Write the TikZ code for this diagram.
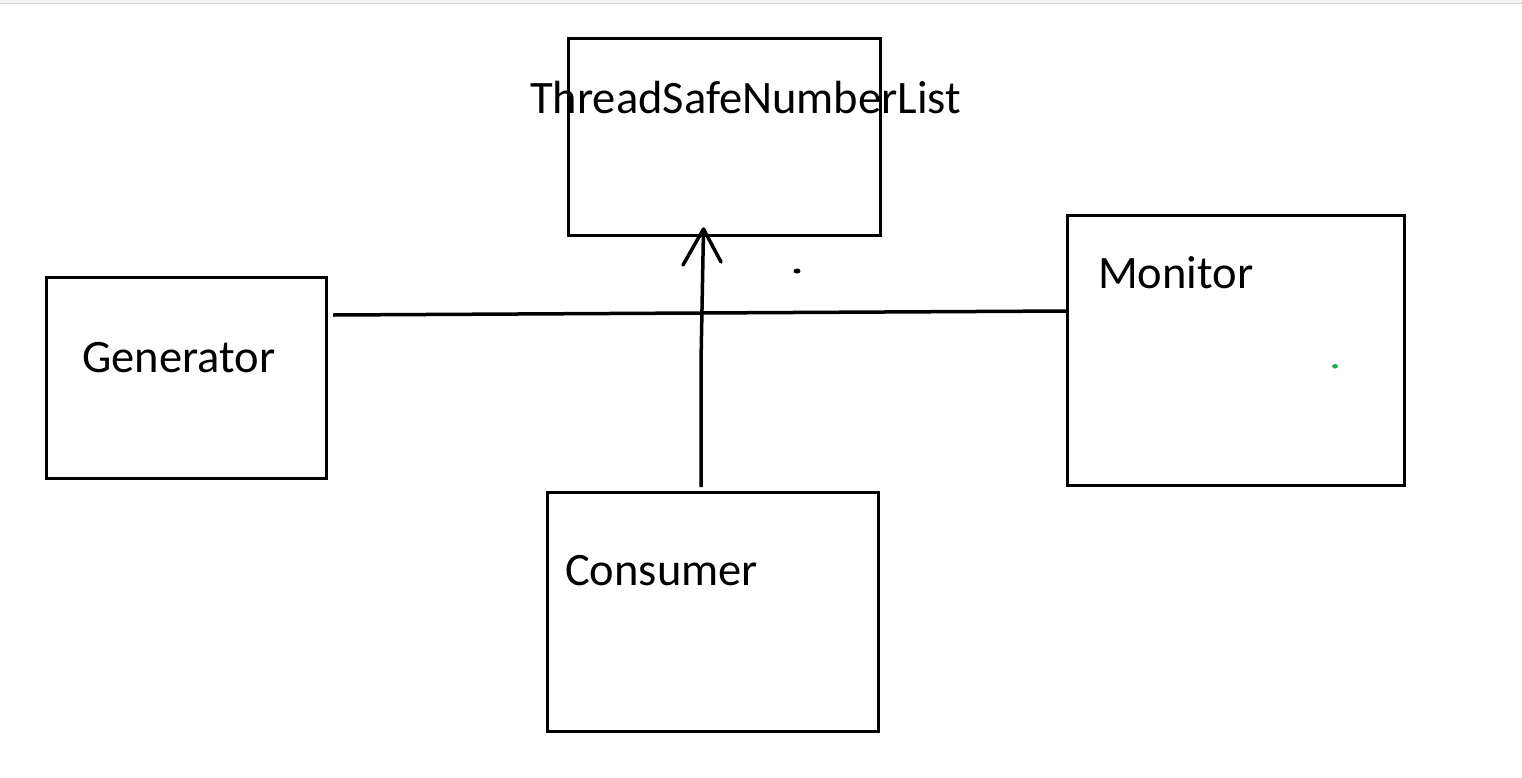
\documentclass[tikz,border=0pt]{standalone}
\usepackage{fontspec}
\setmainfont{Carlito}
\definecolor{paintgreen}{HTML}{22B14C}
\begin{document}
\begin{tikzpicture}[x=1pt,y=-1pt,
  box/.style={draw=black,line width=3pt,inner sep=0pt,fill=none},
  lbl/.style={anchor=base west,inner sep=0pt,font=\fontsize{46.5}{56}\selectfont},
  conn/.style={draw=black,line width=3.5pt}]
\useasboundingbox (0,0) rectangle (1522,777);
\fill[white] (0,0) rectangle (1522,777);
% top strip
\fill[black!4] (0,0) rectangle (1522,3);
\draw[black!18,line width=1pt] (0,3.5) -- (1522,3.5);
% boxes
\node[box,minimum width=312pt,minimum height=197pt] (tsnl) at (724,136.5) {};
\node[box,minimum width=280pt,minimum height=201pt] (gen) at (186,377.5) {};
\node[box,minimum width=337pt,minimum height=270pt] (mon) at (1235.5,350) {};
\node[box,minimum width=331pt,minimum height=239pt] (cons) at (712.5,611.5) {};
% labels
\node[lbl] (tsnlT) at (530,113) {ThreadSafeNumberList};
\node[lbl] (genT) at (82,372) {Generator};
\node[lbl] (monT) at (1098,288) {Monitor};
\node[lbl] (consT) at (565,585) {Consumer};
% connectors
\coordinate (hstart) at (333,315);
\coordinate (hend) at (1067,311);
\draw[conn] (hstart) -- (hend);
\coordinate (vstart) at (701,487);
\coordinate (vmid) at (701,362);
\coordinate (vtip) at (703.5,229);
\draw[conn] (vstart) -- (vmid) -- (vtip);
\coordinate (hl) at (683,265);
\coordinate (hr) at (721,262);
\draw[conn,line join=round,line cap=round] (hl) -- (vtip) -- (hr);
% stray dots
\fill[black] (797,271) ellipse (3.5 and 2.5);
\fill[paintgreen] (1335,366.3) ellipse (3 and 2.3);
\end{tikzpicture}
\end{document}
